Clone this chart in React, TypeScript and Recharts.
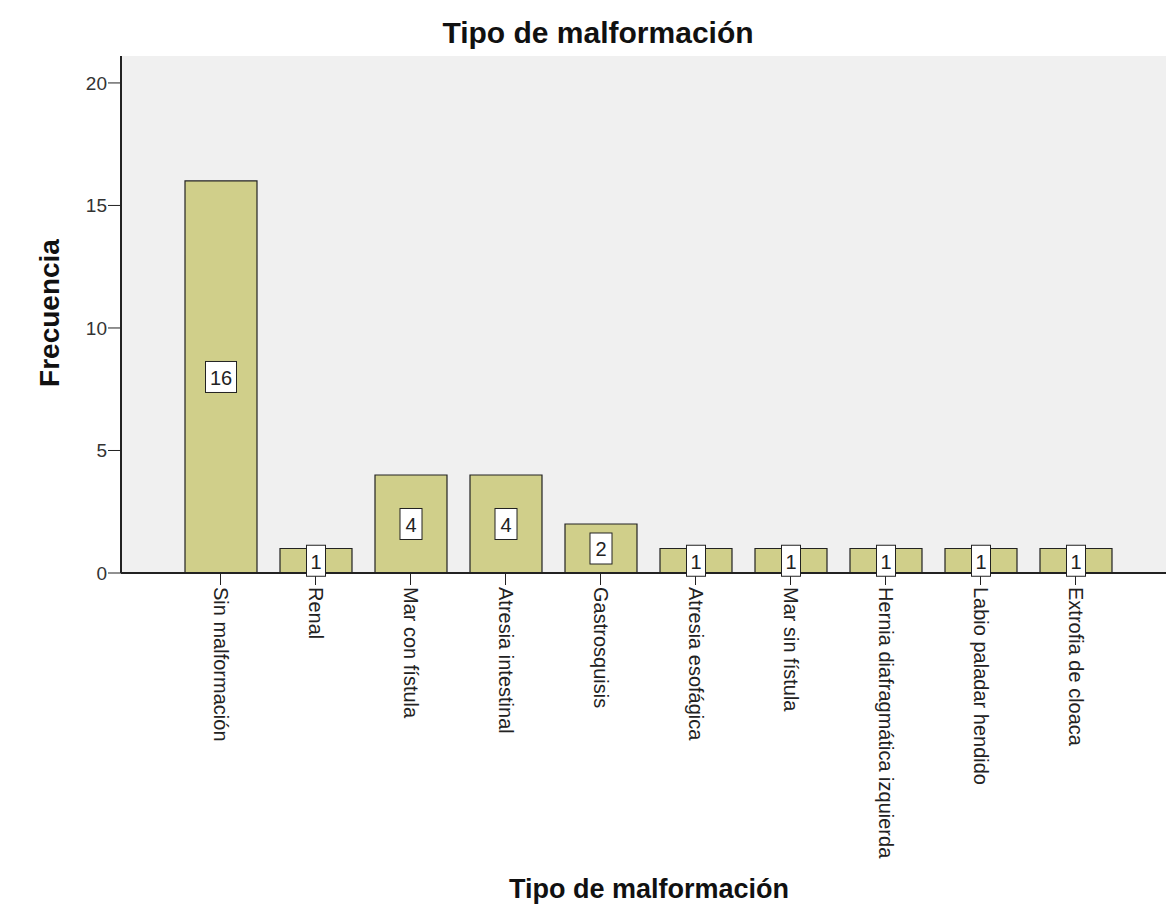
import { Bar, BarChart, CartesianGrid, LabelList, XAxis, YAxis } from "recharts";

const categorias = [
  "Sin malformación",
  "Renal",
  "Mar con fístula",
  "Atresia intestinal",
  "Gastrosquisis",
  "Atresia esofágica",
  "Mar sin fístula",
  "Hernia diafragmática izquierda",
  "Labio paladar hendido",
  "Extrofia de cloaca",
];
const frecuencias = [16, 1, 4, 4, 2, 1, 1, 1, 1, 1];
const ticksY = [0, 5, 10, 15, 20];

const FUENTE = "Arial, 'Liberation Sans', sans-serif";

const datos = categorias.map((nombre, i) => ({ nombre, frecuencia: frecuencias[i] }));

function TickX({ x, y, payload }: any) {
  return (
    <g>
      <line x1={x} y1={y - 8} x2={x} y2={y + 4} stroke="#222" strokeWidth={1} />
      <text
        x={0}
        y={0}
        transform={`translate(${x}, ${y + 6}) rotate(90)`}
        textAnchor="start"
        dominantBaseline="central"
        fontSize={20}
        fontFamily={FUENTE}
        fill="#222"
      >
        {payload.value}
      </text>
    </g>
  );
}

function Etiqueta({ x, y, width, height, value }: any) {
  const cx = x + width / 2;
  const cy = y + height / 2;
  const texto = String(value);
  const w = texto.split("").reduce((a, c) => a + (c === "1" ? 9 : 12), 0) + 10;
  const h = 31;
  return (
    <g>
      <rect x={cx - w / 2} y={cy - h / 2} width={w} height={h} fill="#fff" stroke="#222" strokeWidth={1} />
      <text x={cx} y={cy + 1} textAnchor="middle" dominantBaseline="central" fontSize={20} fontFamily={FUENTE} fill="#222">
        {texto}
      </text>
    </g>
  );
}

export default function App() {
  return (
    <div style={{ position: "absolute", left: 0, top: 0, width: 1166, height: 909, background: "#fff", fontFamily: FUENTE, overflow: "hidden" }}>
      <div style={{ position: "absolute", left: 0, width: 1196, top: 18, lineHeight: 1, textAlign: "center", fontSize: 30, fontWeight: "bold", color: "#111" }}>
        Tipo de malformación
      </div>
      <div style={{ position: "absolute", left: 0, width: 1298, top: 876, lineHeight: 1, textAlign: "center", fontSize: 27, fontWeight: "bold", color: "#111" }}>
        Tipo de malformación
      </div>
      <div
        style={{
          position: "absolute",
          left: 50,
          top: 313,
          transform: "translate(-50%, -50%) rotate(-90deg)",
          fontSize: 28,
          lineHeight: 1,
          fontWeight: "bold",
          color: "#111",
          whiteSpace: "nowrap",
        }}
      >
        Frecuencia
      </div>
      <BarChart
        width={1166}
        height={909}
        data={datos}
        margin={{ top: 56, right: 0, bottom: 46, left: 60 }}
        barSize={72}
      >
        <CartesianGrid fill="#f0f0f0" horizontal={false} vertical={false} />
        <XAxis
          dataKey="nombre"
          interval={0}
          height={290}
          padding={{ left: 52, right: 43 }}
          tick={<TickX />}
          tickLine={false}
          axisLine={{ stroke: "#222", strokeWidth: 2 }}
        />
        <XAxis xAxisId="arriba" orientation="top" dataKey="nombre" height={0} tick={false} tickLine={false} axisLine={{ stroke: "#333", strokeWidth: 2 }} />
        <YAxis
          width={61}
          domain={[0, 21.1]}
          ticks={ticksY}
          tick={{ fontSize: 19, fontFamily: FUENTE, fill: "#333" }}
          tickSize={13}
          tickMargin={1}
          tickLine={{ stroke: "#222" }}
          axisLine={{ stroke: "#222", strokeWidth: 2 }}
          allowDataOverflow
        />
        <Bar dataKey="frecuencia" fill="#d0cf8a" stroke="#222" strokeWidth={1.2} isAnimationActive={false}>
          <LabelList dataKey="frecuencia" content={<Etiqueta />} />
        </Bar>
      </BarChart>
    </div>
  );
}
